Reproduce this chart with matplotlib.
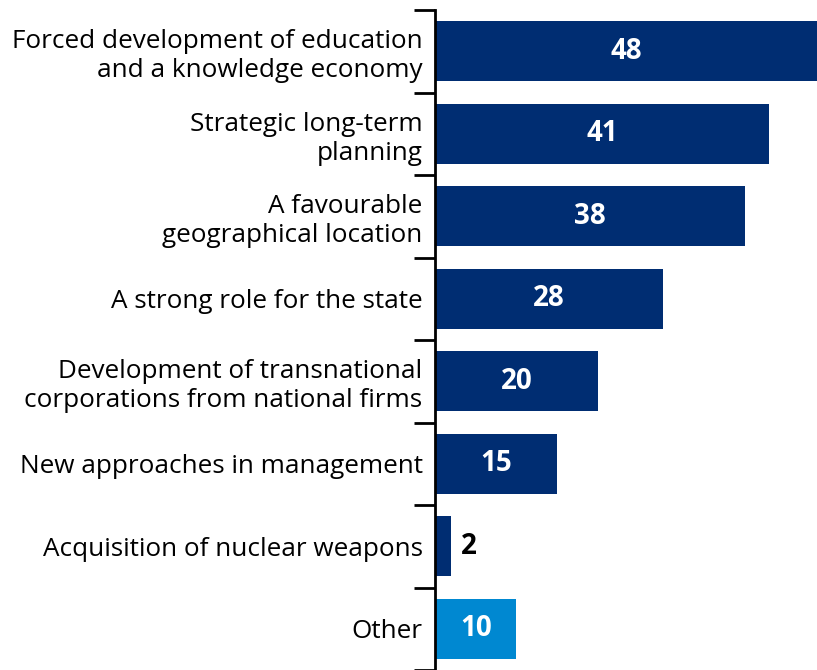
import numpy as np
import matplotlib.pyplot as plt

categories = [
    'Forced development of education\nand a knowledge economy',
    'Strategic long-term\nplanning',
    'A favourable\ngeographical location',
    'A strong role for the state',
    'Development of transnational\ncorporations from national firms',
    'New approaches in management',
    'Acquisition of nuclear weapons',
    'Other',
]
values = [48, 41, 38, 28, 20, 15, 2, 10]
colors = ['#002d72'] * 7 + ['#0088d1']

plt.rcParams['font.family'] = ['Open Sans', 'DejaVu Sans']

fig = plt.figure(figsize=(8.17, 6.7), dpi=100)
ax = fig.add_axes([435 / 817, 0, 1 - 435 / 817, 660 / 670])

y = np.arange(len(values))
ax.barh(y, values, height=0.73, color=colors)

xmax = 46.9
ax.set_xlim(0, xmax)
ax.set_ylim(len(values) - 0.5, -0.5)

# value labels: inside the bar when it is wide enough, else just past its end
for yi, v in zip(y, values):
    if v >= 5:
        ax.text(min(v, xmax) / 2, yi, str(v), ha='center', va='center',
                color='white', fontsize=20, fontweight='bold')
    else:
        ax.text(v + 1.2, yi, str(v), ha='left', va='center',
                color='black', fontsize=20, fontweight='bold')

ax.set_yticks(y)
ax.set_yticklabels(categories, fontsize=18.8, linespacing=1.22)
ax.tick_params(axis='y', which='major', length=0, pad=9)
ax.set_yticks(np.arange(len(values) + 1) - 0.5, minor=True)
ax.tick_params(axis='y', which='minor', length=15, width=2, color='black')

ax.set_xticks([])
for side in ['top', 'right', 'bottom']:
    ax.spines[side].set_visible(False)
ax.spines['left'].set_linewidth(2)

fig.savefig('out.png', dpi=100)
